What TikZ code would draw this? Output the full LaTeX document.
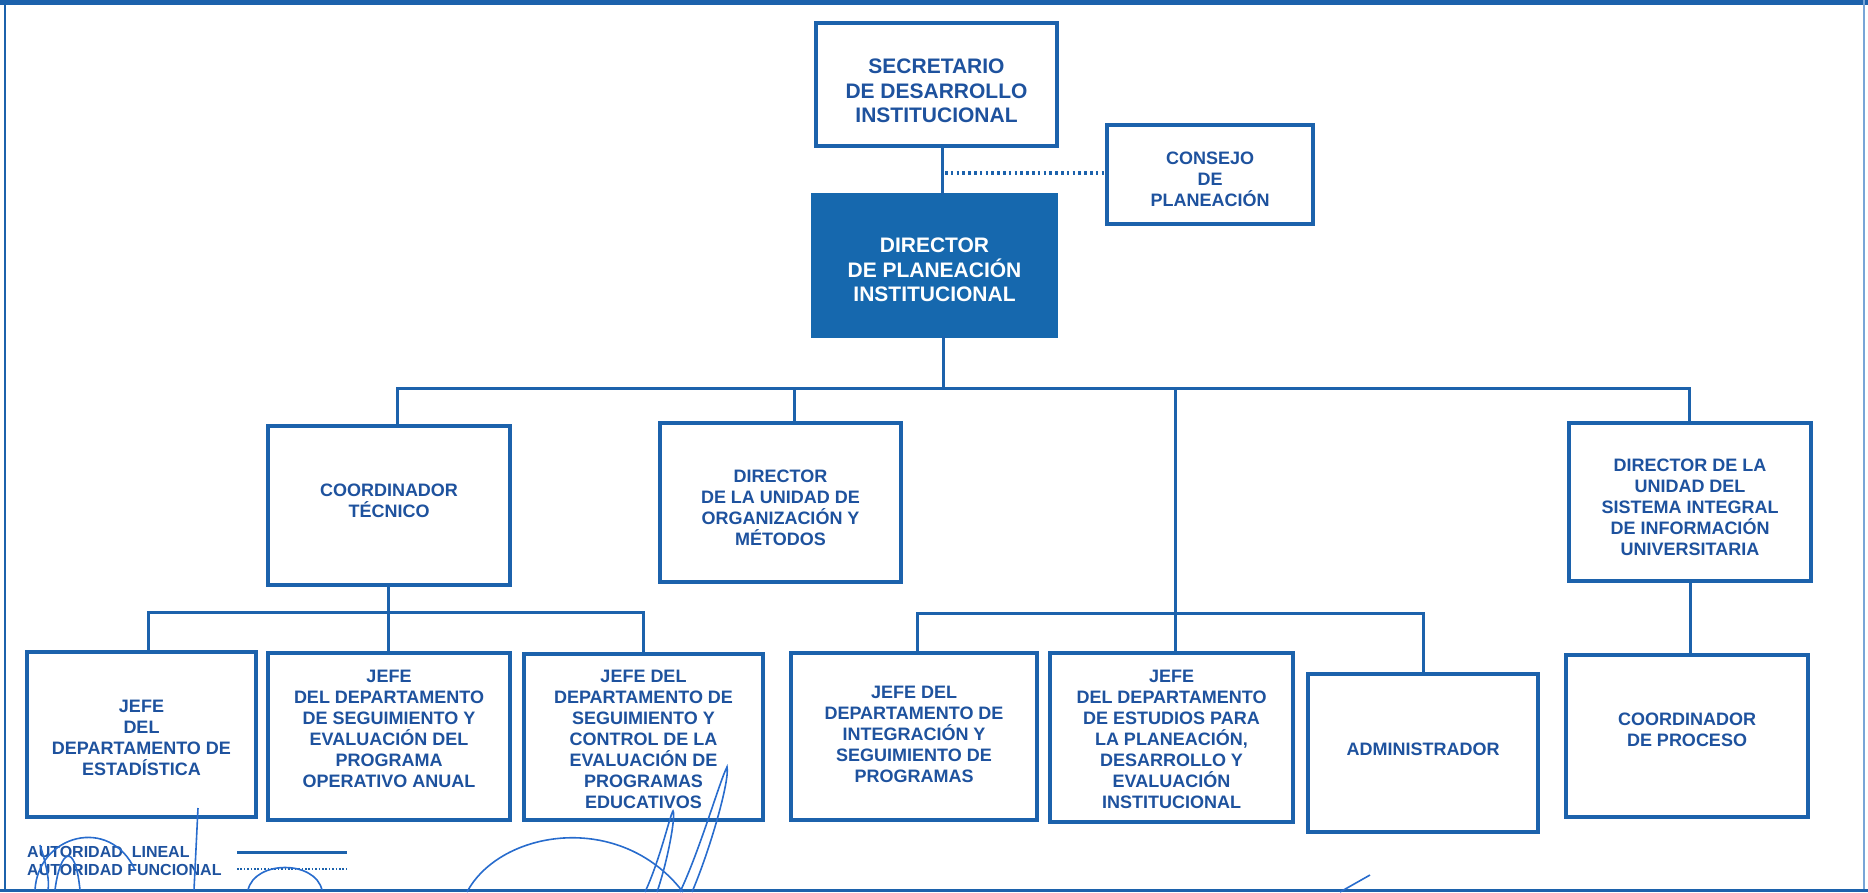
\documentclass[tikz,border=0pt]{standalone}
\usepackage{fontspec}
\setmainfont{Liberation Sans}
\definecolor{lblue}{RGB}{28,98,172}
\definecolor{tblue}{RGB}{30,82,158}
\definecolor{fblue}{RGB}{22,104,174}
\definecolor{sigblue}{RGB}{40,108,205}
\definecolor{frblue}{RGB}{120,165,215}
\begin{document}
\begin{tikzpicture}[x=1pt,y=-1pt,
  box/.style={draw=lblue, line width=3.5pt, rectangle, inner sep=0pt, outer sep=0pt, fill=white},
  dirbox/.style={box, fill=fblue, draw=fblue},
  conn/.style={draw=lblue, line width=3pt},
  fline/.style={draw=lblue, line width=4pt, dash pattern=on 2.6pt off 3.2pt},
  txt/.style={text=tblue, align=center, inner sep=0pt, font=\fontsize{18}{21}\selectfont\bfseries},
  bigtxt/.style={txt, font=\fontsize{21}{24.5}\selectfont\bfseries},
  legtxt/.style={text=tblue, inner sep=0pt, anchor=west, font=\fontsize{16}{18}\selectfont\bfseries},
  sig/.style={draw=sigblue, line width=1.6pt}]
\useasboundingbox (0,0) rectangle (1868,892);
% frame
\draw[lblue, line width=5pt] (0,2.5) -- (1868,2.5);
\draw[lblue, line width=2.5pt] (5,0) -- (5,892);
\draw[frblue, line width=1.5pt] (1864,0) -- (1864,892);
\draw[lblue, line width=3pt] (0,890) -- (1868,890);

% boxes
\node[box, minimum width=241pt, minimum height=123pt] (sec) at (936.5,84.5) {};
\node[box, minimum width=206pt, minimum height=99pt] (cons) at (1210,174.5) {};
\node[dirbox, minimum width=243pt, minimum height=141pt] (dir) at (934.5,265.5) {};
\node[box, minimum width=242pt, minimum height=159pt] (coord) at (389,505.5) {};
\node[box, minimum width=241pt, minimum height=159pt] (org) at (780.5,502.5) {};
\node[box, minimum width=242pt, minimum height=158pt] (siiu) at (1690,502) {};
\node[box, minimum width=229pt, minimum height=165pt] (est) at (141.5,734.5) {};
\node[box, minimum width=242pt, minimum height=167pt] (poa) at (389,736.5) {};
\node[box, minimum width=239pt, minimum height=166pt] (ctrl) at (643.5,737) {};
\node[box, minimum width=246pt, minimum height=167pt] (integ) at (914,736.5) {};
\node[box, minimum width=243pt, minimum height=169pt] (estud) at (1171.5,737.5) {};
\node[box, minimum width=230pt, minimum height=158pt] (admin) at (1423,753) {};
\node[box, minimum width=242pt, minimum height=162pt] (proc) at (1687,736) {};

% texts
\node[bigtxt] (tsec) at (936.5,91) {SECRETARIO\\DE DESARROLLO\\INSTITUCIONAL};
\node[txt] (tcons) at (1210,179) {CONSEJO\\DE\\PLANEACIÓN};
\node[bigtxt, text=white] (tdir) at (934.5,270) {DIRECTOR\\DE PLANEACIÓN\\INSTITUCIONAL};
\node[txt] (tcoord) at (389,500.5) {COORDINADOR\\TÉCNICO};
\node[txt] (torg) at (780.5,508) {DIRECTOR\\DE LA UNIDAD DE\\ORGANIZACIÓN Y\\MÉTODOS};
\node[txt] (tsiiu) at (1690,507) {DIRECTOR DE LA\\UNIDAD DEL\\SISTEMA INTEGRAL\\DE INFORMACIÓN\\UNIVERSITARIA};
\node[txt] (test) at (141.5,737.5) {JEFE\\DEL\\DEPARTAMENTO DE\\ESTADÍSTICA};
\node[txt] (tpoa) at (389,728.5) {JEFE\\DEL DEPARTAMENTO\\DE SEGUIMIENTO Y\\EVALUACIÓN DEL\\PROGRAMA\\OPERATIVO ANUAL};
\node[txt] (tctrl) at (643.5,739.5) {JEFE DEL\\DEPARTAMENTO DE\\SEGUIMIENTO Y\\CONTROL DE LA\\EVALUACIÓN DE\\PROGRAMAS\\EDUCATIVOS};
\node[txt] (tinteg) at (914,734.5) {JEFE DEL\\DEPARTAMENTO DE\\INTEGRACIÓN Y\\SEGUIMIENTO DE\\PROGRAMAS};
\node[txt] (testud) at (1171.5,739.5) {JEFE\\DEL DEPARTAMENTO\\DE ESTUDIOS PARA\\LA PLANEACIÓN,\\DESARROLLO Y\\EVALUACIÓN\\INSTITUCIONAL};
\node[txt] (tadmin) at (1423,749) {ADMINISTRADOR};
\node[txt] (tproc) at (1687,729.5) {COORDINADOR\\DE PROCESO};

% helper coordinates
\coordinate (xTop) at (942,0);
\coordinate (xTrunk) at (943,0);
\coordinate (busY) at (0,388);
\coordinate (xC) at (397,0);
\coordinate (xO) at (794,0);
\coordinate (xE) at (1175,0);
\coordinate (xS) at (1689,0);
\coordinate (busL) at (0,612);
\coordinate (xP) at (388,0);
\coordinate (xEs) at (148,0);
\coordinate (xCt) at (643,0);
\coordinate (busR) at (0,613);
\coordinate (xI) at (917,0);
\coordinate (xA) at (1423,0);
\coordinate (xS2) at (1690,0);
\coordinate (fdot) at (945,173);

% connectors
\draw[conn] (sec.south -| xTop) -- (dir.north -| xTop);
\draw[fline] (fdot) -- (fdot -| cons.west);
\draw[conn] (dir.south -| xTrunk) -- (xTrunk |- busY);
\draw[conn] (coord.north -| xC) -- (xC |- busY) -- (xS |- busY) -- (siiu.north -| xS);
\draw[conn] (xO |- busY) -- (org.north -| xO);
\draw[conn] (xE |- busY) -- (estud.north -| xE);
\draw[conn] (coord.south -| xP) -- (poa.north -| xP);
\draw[conn] (est.north -| xEs) -- (xEs |- busL) -- (xCt |- busL) -- (ctrl.north -| xCt);
\draw[conn] (integ.north -| xI) -- (xI |- busR) -- (xA |- busR) -- (admin.north -| xA);
\draw[conn] (siiu.south -| xS2) -- (proc.north -| xS2);

% legend
\node[legtxt] (leg1) at (27,852) {AUTORIDAD\ \ LINEAL};
\node[legtxt] (leg2) at (27,870) {AUTORIDAD FUNCIONAL};
\coordinate (ls1) at (237,852);
\coordinate (le1) at (347,852);
\coordinate (ls2) at (237,869);
\coordinate (le2) at (347,869);
\draw[conn] (ls1) -- (le1);
\draw[draw=lblue, line width=2.8pt, dash pattern=on 1.6pt off 1.8pt] (ls2) -- (le2);

% signatures
\draw[sig] (35,890) .. controls (38,835) and (110,815) .. (135,870);
\draw[sig] (55,890) .. controls (60,850) and (75,840) .. (80,890);
\draw[sig] (40,845) .. controls (45,860) and (50,880) .. (48,890);
\draw[sig] (198,808) -- (194,890);
\draw[sig] (248,890) .. controls (255,860) and (315,860) .. (322,890);
\draw[sig] (467,892) .. controls (500,830) and (620,810) .. (683,892);
\draw[sig] (645,892) .. controls (660,860) and (670,815) .. (673,811) .. controls (676,815) and (668,860) .. (657,892);
\draw[sig] (680,892) .. controls (700,850) and (720,780) .. (727,767) .. controls (730,780) and (710,850) .. (692,892);
\draw[sig] (1340,892) -- (1370,875);
\end{tikzpicture}
\end{document}
